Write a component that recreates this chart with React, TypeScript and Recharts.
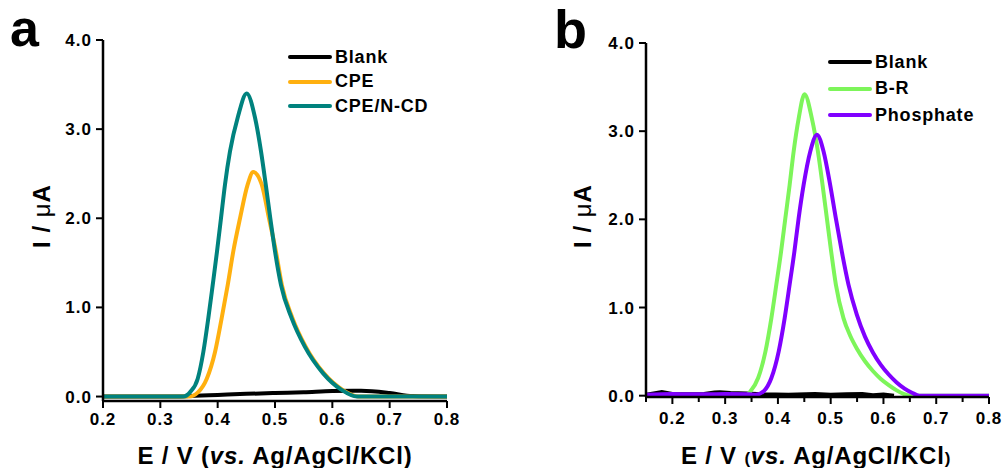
import { LineChart, Line, XAxis, YAxis, Legend, Label } from 'recharts';

const FONT = '"Liberation Sans", Arial, Helvetica, sans-serif';

// ---- panel a ----
const blankAE = [0.2, 0.33, 0.36, 0.4, 0.45, 0.5, 0.55, 0.6, 0.65, 0.7, 0.74, 0.8];
const blankAI = [0, 0, 0.008, 0.018, 0.03, 0.04, 0.048, 0.062, 0.065, 0.04, 0.005, 0];

const cpeE = [0.2, 0.35, 0.366, 0.381, 0.3954, 0.407, 0.4175, 0.4273, 0.439, 0.4524, 0.462, 0.4768, 0.4895, 0.5015, 0.512, 0.5305, 0.5535, 0.5855, 0.618, 0.646, 0.66, 0.8];
const cpeI = [0, 0, 0.05, 0.2, 0.5, 0.88, 1.25, 1.63, 2.0, 2.38, 2.52, 2.38, 2.0, 1.63, 1.25, 0.88, 0.56, 0.26, 0.075, 0, 0, 0];

const ncdE = [0.2, 0.3, 0.34, 0.352, 0.3652, 0.375, 0.3837, 0.3913, 0.3989, 0.4058, 0.4128, 0.4215, 0.435, 0.4506, 0.4651, 0.4756, 0.4838, 0.4918, 0.5, 0.5105, 0.529, 0.552, 0.584, 0.616, 0.643, 0.66, 0.8];
const ncdI = [0, 0, 0, 0.05, 0.2, 0.5, 0.88, 1.25, 1.63, 2.0, 2.38, 2.75, 3.13, 3.4, 3.13, 2.75, 2.38, 2.0, 1.63, 1.25, 0.88, 0.56, 0.26, 0.075, 0, 0, 0];

// ---- panel b ----
const blankBE = [0.15, 0.17, 0.18, 0.2, 0.23, 0.26, 0.28, 0.29, 0.31, 0.34, 0.37, 0.42, 0.47, 0.5, 0.53, 0.56, 0.58, 0.6, 0.62];
const blankBI = [0.01, 0.03, 0.04, 0.02, 0.015, 0.02, 0.035, 0.04, 0.03, 0.025, 0.015, 0.01, 0.02, 0.01, 0.015, 0.02, 0.005, 0.012, 0];

const brE = [0.15, 0.3, 0.338, 0.348, 0.3625, 0.3763, 0.3876, 0.397, 0.4059, 0.414, 0.4222, 0.4298, 0.4392, 0.4505, 0.4645, 0.4758, 0.4846, 0.4928, 0.501, 0.5098, 0.5242, 0.537, 0.55, 0.565, 0.58, 0.595, 0.61, 0.625, 0.638, 0.65, 0.7, 0.8];
const brI = [0, 0, 0, 0.05, 0.2, 0.5, 0.88, 1.26, 1.63, 2.01, 2.39, 2.77, 3.14, 3.42, 3.14, 2.77, 2.39, 2.01, 1.63, 1.26, 0.88, 0.68, 0.53, 0.39, 0.28, 0.19, 0.12, 0.06, 0.02, 0, 0, 0];

const phosE = [0.15, 0.2, 0.25, 0.3, 0.345, 0.358, 0.373, 0.3876, 0.4014, 0.4128, 0.4222, 0.4311, 0.4392, 0.4487, 0.4613, 0.474, 0.4865, 0.499, 0.5098, 0.5212, 0.5337, 0.5495, 0.565, 0.58, 0.595, 0.61, 0.625, 0.64, 0.655, 0.668, 0.7, 0.8];
const phosI = [0.01, 0.02, 0.015, 0.02, 0.015, 0.01, 0.05, 0.2, 0.5, 0.88, 1.26, 1.63, 2.01, 2.39, 2.77, 2.96, 2.77, 2.39, 2.01, 1.63, 1.26, 0.92, 0.67, 0.49, 0.35, 0.24, 0.15, 0.08, 0.03, 0, 0, 0];

const yTicks = [0, 1, 2, 3, 4];
const xTicksA = [0.2, 0.3, 0.4, 0.5, 0.6, 0.7, 0.8];
const xTicksB = [0.15, 0.2, 0.25, 0.3, 0.35, 0.4, 0.45, 0.5, 0.55, 0.6, 0.65, 0.7, 0.75, 0.8];
const legendA = ['Blank', 'CPE', 'CPE/N-CD'];
const legendB = ['Blank', 'B-R', 'Phosphate'];

const zip = (e: number[], i: number[]) => e.map((x, k) => ({ e: x, i: i[k] }));

const tickFont = { fontFamily: FONT, fontWeight: 700, fontSize: 17, fill: '#000', letterSpacing: 1 };

function makeLegend(rowH: number, order: string[]) {
  return (props: any) => {
    const items = [...(props.payload || [])].sort((a: any, b: any) => order.indexOf(a.value) - order.indexOf(b.value));
    return (
      <div style={{ fontFamily: FONT, fontWeight: 700, fontSize: 18, color: '#000', letterSpacing: 0.8 }}>
        {items.map((p: any) => (
          <div key={p.value} style={{ display: 'flex', alignItems: 'center', height: rowH, whiteSpace: 'nowrap' }}>
            <span style={{ display: 'inline-block', width: 44, height: 4, background: p.color, borderRadius: 2, marginRight: 3 }} />
            <span>{p.value}</span>
          </div>
        ))}
      </div>
    );
  };
}

// bottom ticks with minor marks (panel b)
function MinorTick(props: any) {
  const { x, payload, axisY } = props;
  const v = payload.value as number;
  const major = Math.abs(v * 10 - Math.round(v * 10)) < 1e-6;
  return (
    <g>
      <line x1={x} x2={x} y1={axisY} y2={axisY + (major ? 7 : 5)} stroke="#000" strokeWidth={2} />
      {major && (
        <text x={x} y={axisY + 27} textAnchor="middle" {...tickFont}>
          {v.toFixed(1)}
        </text>
      )}
    </g>
  );
}

const yTitle = (cx: number) => () => (
  <text transform={`translate(${cx},216) rotate(-90)`} textAnchor="middle" dominantBaseline="central"
    fontFamily={FONT} fontWeight={700} fontSize={24} fill="#000" letterSpacing={1}>
    I / <tspan fontWeight={400}>μ</tspan>A
  </text>
);

function PanelA() {
  return (
    <div style={{ position: 'absolute', left: 0, top: 0 }}>
      <LineChart width={500} height={468} margin={{ top: 40, right: 53, bottom: 37, left: 40 }}>
        <XAxis type="number" dataKey="e" domain={[0.2, 0.8]} ticks={xTicksA} allowDataOverflow
          tickFormatter={(v: number) => v.toFixed(1)} tick={tickFont} tickSize={7} tickMargin={5}
          axisLine={{ stroke: '#000', strokeWidth: 2.5 }} tickLine={{ stroke: '#000', strokeWidth: 2 }} height={30}>
          <Label content={() => (
            <text x={275} y={464} textAnchor="middle" fontFamily={FONT} fontWeight={700} fontSize={24} fill="#000" letterSpacing={0.8}>
              E / V (<tspan fontStyle="italic">vs.</tspan> Ag/AgCl/KCl)
            </text>
          )} />
        </XAxis>
        <XAxis xAxisId="top" orientation="top" type="number" domain={[0.2, 0.8]} tick={false} tickLine={false}
          height={0} axisLine={{ stroke: '#000', strokeWidth: 2.5 }} />
        <YAxis type="number" domain={[-0.05, 4]} ticks={yTicks} allowDataOverflow width={63}
          tickFormatter={(v: number) => v.toFixed(1)} tick={tickFont} tickSize={7} tickMargin={4}
          axisLine={{ stroke: '#000', strokeWidth: 2.5 }} tickLine={{ stroke: '#000', strokeWidth: 2 }}>
          <Label content={yTitle(41)} />
        </YAxis>
        <YAxis yAxisId="right" orientation="right" type="number" domain={[-0.05, 4]} tick={false} tickLine={false}
          width={0} axisLine={{ stroke: '#000', strokeWidth: 2.5 }} />
        <Legend layout="vertical" align="center" verticalAlign="middle" content={makeLegend(24.5, legendA)}
          wrapperStyle={{ left: 288, top: 45, width: 'auto' }} />
        <Line data={zip(blankAE, blankAI)} dataKey="i" name="Blank" type="monotone" stroke="#000000"
          strokeWidth={4} dot={false} isAnimationActive={false} />
        <Line data={zip(cpeE, cpeI)} dataKey="i" name="CPE" type="monotone" stroke="#FFB00F"
          strokeWidth={4} dot={false} isAnimationActive={false} />
        <Line data={zip(ncdE, ncdI)} dataKey="i" name="CPE/N-CD" type="monotone" stroke="#00827E"
          strokeWidth={4} dot={false} isAnimationActive={false} />
      </LineChart>
      <div style={{ position: 'absolute', left: 10, top: 2, fontFamily: FONT, fontWeight: 700, fontSize: 52, lineHeight: '52px' }}>a</div>
    </div>
  );
}

function PanelB() {
  const axisY = 397;
  return (
    <div style={{ position: 'absolute', left: 540, top: 0 }}>
      <LineChart width={463} height={468} margin={{ top: 43, right: 14, bottom: 41, left: 40 }}>
        <XAxis type="number" dataKey="e" domain={[0.15, 0.8]} ticks={xTicksB} allowDataOverflow interval={0}
          tick={(p: any) => <MinorTick {...p} axisY={axisY} />} tickLine={false} tickSize={7} tickMargin={5}
          axisLine={{ stroke: '#000', strokeWidth: 2.5 }} height={30}>
          <Label content={() => (
            <text x={276} y={464} textAnchor="middle" fontFamily={FONT} fontWeight={700} fontSize={24} fill="#000" letterSpacing={0.8}>
              E / V <tspan fontSize={17}>(</tspan><tspan fontStyle="italic">vs.</tspan> Ag/AgCl/KCl<tspan fontSize={17}>)</tspan>
            </text>
          )} />
        </XAxis>
        <XAxis xAxisId="top" orientation="top" type="number" domain={[0.15, 0.8]} tick={false} tickLine={false}
          height={0} axisLine={{ stroke: '#000', strokeWidth: 2.5 }} />
        <YAxis type="number" domain={[-0.015, 4]} ticks={yTicks} allowDataOverflow width={66}
          tickFormatter={(v: number) => v.toFixed(1)} tick={tickFont} tickSize={7} tickMargin={4}
          axisLine={{ stroke: '#000', strokeWidth: 2.5 }} tickLine={{ stroke: '#000', strokeWidth: 2 }}>
          <Label content={yTitle(42)} />
        </YAxis>
        <YAxis yAxisId="right" orientation="right" type="number" domain={[-0.015, 4]} tick={false} tickLine={false}
          width={0} axisLine={{ stroke: '#000', strokeWidth: 2.5 }} />
        <Legend layout="vertical" align="center" verticalAlign="middle" content={makeLegend(26.5, legendB)}
          wrapperStyle={{ left: 288, top: 49, width: 'auto' }} />
        <Line data={zip(blankBE, blankBI)} dataKey="i" name="Blank" type="linear" stroke="#000000"
          strokeWidth={4} dot={false} isAnimationActive={false} />
        <Line data={zip(brE, brI)} dataKey="i" name="B-R" type="monotone" stroke="#7DF55A"
          strokeWidth={4} dot={false} isAnimationActive={false} />
        <Line data={zip(phosE, phosI)} dataKey="i" name="Phosphate" type="monotone" stroke="#8000FF"
          strokeWidth={4} dot={false} isAnimationActive={false} />
      </LineChart>
      <div style={{ position: 'absolute', left: 14, top: 2, fontFamily: FONT, fontWeight: 700, fontSize: 54, lineHeight: '54px' }}>b</div>
    </div>
  );
}

export default function App() {
  return (
    <div style={{ position: 'absolute', left: 0, top: 0, width: 1003, height: 468, background: '#fff' }}>
      <PanelA />
      <PanelB />
    </div>
  );
}
